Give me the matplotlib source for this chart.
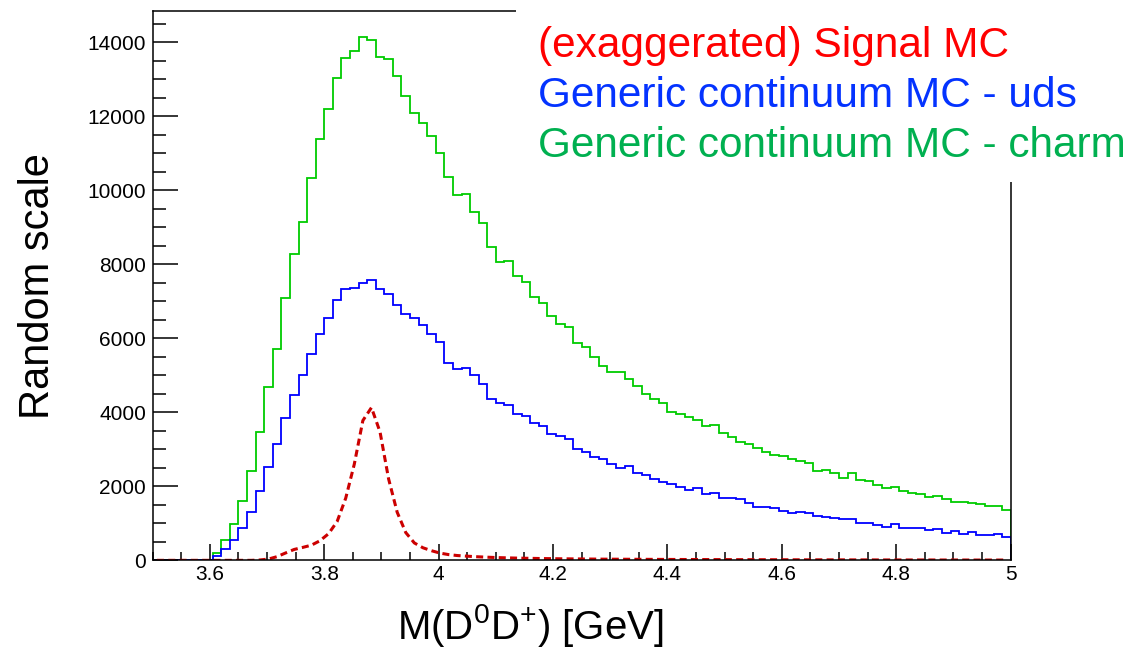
import numpy as np
import matplotlib
matplotlib.use("Agg")
import matplotlib.pyplot as plt
from matplotlib.patches import Rectangle

plt.rcParams['font.family'] = ['Liberation Sans', 'DejaVu Sans']
plt.rcParams['mathtext.fontset'] = 'custom'
plt.rcParams['mathtext.rm'] = 'Liberation Sans'

# 100 bins of 15 MeV from 3.5 to 5.0 GeV
x_lo, x_hi, n_bins = 3.5, 5.0, 100

charm = [0, 0, 0, 0, 0, 0, 0, 200, 560, 973,
         1612, 2425, 3460, 4693, 5722, 7088, 8285, 9152, 10342, 11400,
         12205, 13045, 13585, 13780, 14140, 14062, 13608, 13548, 13091, 12559,
         12090, 11825, 11482, 11012, 10369, 9878, 9905, 9423, 9130, 8476,
         8067, 8104, 7693, 7531, 7117, 6947, 6612, 6387, 6306, 5865,
         5774, 5503, 5260, 5081, 5098, 4893, 4715, 4495, 4355, 4245,
         4015, 3958, 3882, 3795, 3644, 3648, 3433, 3333, 3189, 3135,
         3027, 2927, 2838, 2811, 2730, 2676, 2622, 2414, 2449, 2368,
         2233, 2352, 2179, 2143, 2035, 1954, 1990, 1865, 1827, 1792,
         1711, 1738, 1649, 1576, 1576, 1557, 1530, 1468, 1476, 1368]

uds = [0, 0, 0, 0, 0, 0, 0, 116, 297, 541,
       885, 1314, 1882, 2530, 3152, 3838, 4458, 5009, 5568, 6126,
       6558, 7044, 7325, 7368, 7504, 7570, 7338, 7210, 6905, 6666,
       6541, 6360, 6113, 5909, 5325, 5185, 5206, 5001, 4765, 4352,
       4260, 4198, 3955, 3900, 3720, 3639, 3423, 3360, 3270, 3000,
       2936, 2792, 2746, 2605, 2495, 2541, 2368, 2297, 2198, 2130,
       2058, 1985, 1910, 1950, 1800, 1820, 1690, 1697, 1652, 1562,
       1445, 1432, 1410, 1333, 1292, 1310, 1279, 1198, 1180, 1150,
       1126, 1122, 1018, 1000, 955, 901, 991, 865, 883, 883,
       811, 856, 748, 793, 721, 757, 694, 676, 712, 640]

signal = [0, 0, 0, 0, 0, 0, 0, 0, 0, 0,
          0, 0, 10, 35, 100, 200, 295, 350, 410, 530,
          720, 1050, 1680, 2600, 3780, 4130, 3470, 2200, 1300, 750,
          470, 340, 260, 195, 155, 130, 115, 100, 90, 80,
          72, 66, 60, 56, 52, 48, 45, 42, 40, 38,
          36, 34, 32, 31, 30, 29, 28, 27, 26, 25,
          24, 23, 22, 22, 21, 20, 20, 19, 18, 18,
          17, 17, 16, 16, 15, 15, 14, 14, 13, 13,
          13, 12, 12, 12, 11, 11, 11, 10, 10, 10,
          10, 9, 9, 9, 9, 8, 8, 8, 8, 8]

legend_lines = ["(exaggerated) Signal MC",
                "Generic continuum MC - uds",
                "Generic continuum MC - charm"]
legend_colors = ["#ff0000", "#0433ff", "#00b050"]

edges = np.linspace(x_lo, x_hi, n_bins + 1)
centers = 0.5 * (edges[:-1] + edges[1:])

fig = plt.figure(figsize=(11.3, 6.53), dpi=100)
ax = fig.add_axes([0.1351, 0.1419, 0.7593, 0.8412])

ax.stairs(charm, edges, color="#00cc00", lw=1.3)
ax.stairs(uds, edges, color="#0000ff", lw=1.3)
ax.plot(centers, signal, color="#cc0000", lw=2.2, dashes=(2.3, 1.4))

ax.set_xlim(x_lo, x_hi)
ax.set_ylim(0, 14850)
ax.set_xticks(np.arange(3.6, 5.01, 0.2))
ax.set_xticklabels(["3.6", "3.8", "4", "4.2", "4.4", "4.6", "4.8", "5"])
ax.set_xticks(np.arange(3.5, 5.01, 0.05), minor=True)
ax.set_yticks(np.arange(0, 14001, 2000))
ax.set_yticks(np.arange(0, 14801, 500), minor=True)

ax.tick_params(axis='both', which='both', direction='in', labelsize=15,
               top=False, right=False, width=1.1)
ax.tick_params(axis='y', which='major', length=18, pad=4.8)
ax.tick_params(axis='y', which='minor', length=9.4)
ax.tick_params(axis='x', which='major', length=11.5, pad=3.6)
ax.tick_params(axis='x', which='minor', length=5.8)
for s in ax.spines.values():
    s.set_linewidth(1.1)

# white area behind the legend text hides part of the frame
fig.add_artist(Rectangle((0.4566, 0.7213), 0.5434, 0.2787,
                         transform=fig.transFigure, facecolor="white",
                         edgecolor="none", zorder=5))

for i, (txt, col) in enumerate(zip(legend_lines, legend_colors)):
    fig.text(0.4761, 0.9127 - i * 0.0766, txt, color=col, fontsize=30.5,
             va="baseline", ha="left", zorder=6)

fig.text(0.0336, 0.562, "Random scale", rotation=90, fontsize=30,
         ha="center", va="center")
fig.text(0.469, 0.022, r"M(D$^{\mathrm{0}}$D$^{+}$) [GeV]", fontsize=29,
         ha="center", va="baseline")

fig.savefig("out.png", dpi=100)
